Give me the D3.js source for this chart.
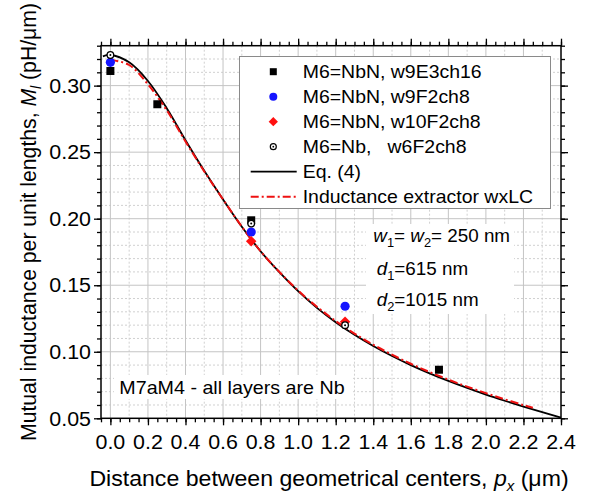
<!DOCTYPE html>
<html>
<head>
<meta charset="utf-8">
<script src="https://cdn.jsdelivr.net/npm/d3@7"></script>
<style>
  html, body { margin: 0; padding: 0; background: #fff; }
  svg { display: block; }
  text { font-family: "Liberation Sans", Arial, Helvetica, sans-serif; fill: #000; white-space: pre; }
</style>
</head>
<body>
<svg id="chart" width="593" height="499"></svg>
<script>
// Measured mutual inductance per unit length (pH/µm) vs. center distance (µm)
const w9E3ch16X = [0, 0.25, 0.75, 1.75];
const w9E3ch16Y = [0.311, 0.286, 0.1988, 0.0865];
const w9F2ch8X = [0, 0.75, 1.25];
const w9F2ch8Y = [0.3175, 0.190, 0.1342];
const w10F2ch8X = [0.75, 1.25];
const w10F2ch8Y = [0.183, 0.1225];
const w6F2ch8X = [0, 0.75, 1.25];
const w6F2ch8Y = [0.323, 0.1963, 0.120];

// Eq. (4) curve
const eqX = [-0.04, 0.0, 0.1, 0.2, 0.3, 0.4, 0.5, 0.6, 0.7, 0.8, 0.9, 1.0, 1.1, 1.2, 1.3,
             1.4, 1.5, 1.6, 1.7, 1.8, 1.9, 2.0, 2.1, 2.2, 2.3, 2.4];
const eqY = [0.322, 0.323, 0.3175, 0.3035, 0.283, 0.259, 0.236, 0.2145, 0.194, 0.1755, 0.1598,
             0.1455, 0.1330, 0.1222, 0.1127, 0.1043, 0.0968, 0.0900, 0.0838, 0.0781, 0.0728,
             0.0678, 0.0632, 0.0588, 0.0546, 0.0505];

// Inductance extractor wxLC results
const wxlcX = [0.0, 0.1, 0.2, 0.3, 0.4, 0.5, 0.6, 0.7, 0.8, 0.9, 1.0, 1.1, 1.2, 1.3, 1.4,
               1.5, 1.6, 1.7, 1.8, 1.9, 2.0, 2.1, 2.2, 2.25];
const wxlcY = [0.3195, 0.3155, 0.301, 0.2815, 0.258, 0.2355, 0.2145, 0.194, 0.1755, 0.1600,
               0.1460, 0.1338, 0.1231, 0.1137, 0.1053, 0.0978, 0.0910, 0.0848, 0.0791, 0.0738,
               0.0689, 0.0643, 0.0599, 0.0579];

const xTickValues = [0.0, 0.2, 0.4, 0.6, 0.8, 1.0, 1.2, 1.4, 1.6, 1.8, 2.0, 2.2, 2.4];
const yTickValues = [0.05, 0.10, 0.15, 0.20, 0.25, 0.30];

const legendLabels = ["M6=NbN, w9E3ch16", "M6=NbN, w9F2ch8", "M6=NbN, w10F2ch8",
                      "M6=Nb,   w6F2ch8", "Eq. (4)", "Inductance extractor wxLC"];

const SX = 1.07; // horizontal glyph stretch
const svg = d3.select("#chart");
const L = 101, R = 561, T = 45.7, B = 418.3;

const x = d3.scaleLinear().domain([-0.05, 2.4]).range([L, R]);
const y = d3.scaleLinear().domain([0.05, 0.33]).range([B, T]);

function stext(parent, px, py, anchor, size) {
  return parent.append("g")
    .attr("transform", `translate(${px},${py}) scale(${SX},1)`)
    .append("text")
    .attr("text-anchor", anchor || "start")
    .attr("font-size", size);
}

// grid
const grid = svg.append("g");
const xMinorGrid = d3.range(0.1, 2.4, 0.2);
const yMinorGrid = d3.range(0.06, 0.33, 0.01).filter(v => Math.abs(v * 100 % 5) > 0.01 && Math.abs(v * 100 % 5 - 5) > 0.01);
grid.selectAll(".xmg").data(xMinorGrid).enter().append("line")
  .attr("x1", d => x(d)).attr("x2", d => x(d)).attr("y1", T).attr("y2", B)
  .attr("stroke", "#d0d0d0").attr("stroke-width", 1).attr("stroke-dasharray", "2,2");
grid.selectAll(".ymg").data(yMinorGrid).enter().append("line")
  .attr("x1", L).attr("x2", R).attr("y1", d => y(d)).attr("y2", d => y(d))
  .attr("stroke", "#d0d0d0").attr("stroke-width", 1).attr("stroke-dasharray", "2,2");
grid.selectAll(".xg").data(xTickValues.slice(0, -1)).enter().append("line")
  .attr("x1", d => x(d)).attr("x2", d => x(d)).attr("y1", T).attr("y2", B)
  .attr("stroke", "#c4c4c4").attr("stroke-width", 1);
grid.selectAll(".yg").data(yTickValues.slice(1)).enter().append("line")
  .attr("x1", L).attr("x2", R).attr("y1", d => y(d)).attr("y2", d => y(d))
  .attr("stroke", "#c4c4c4").attr("stroke-width", 1);

// axes (ticks on all four sides, pointing outward)
const xMinor = d3.range(-0.05, 2.401, 0.05);
const yMinor = d3.range(0.05, 0.3301, 0.01);
function axisX(gen, ty) {
  svg.append("g").attr("transform", `translate(0,${ty})`)
    .call(gen.tickValues(xMinor).tickSize(4).tickFormat(""))
    .call(g => g.select(".domain").remove())
    .selectAll("line").attr("stroke-width", 1.3);
  svg.append("g").attr("transform", `translate(0,${ty})`)
    .call(gen.tickValues(xTickValues).tickSize(7).tickFormat(""))
    .call(g => g.select(".domain").remove())
    .selectAll("line").attr("stroke-width", 1.3);
}
function axisY(gen, tx) {
  svg.append("g").attr("transform", `translate(${tx},0)`)
    .call(gen.tickValues(yMinor).tickSize(4).tickFormat(""))
    .call(g => g.select(".domain").remove())
    .selectAll("line").attr("stroke-width", 1.3);
  svg.append("g").attr("transform", `translate(${tx},0)`)
    .call(gen.tickValues(yTickValues).tickSize(7).tickFormat(""))
    .call(g => g.select(".domain").remove())
    .selectAll("line").attr("stroke-width", 1.3);
}
axisX(d3.axisBottom(x), B);
axisX(d3.axisTop(x), T);
axisY(d3.axisLeft(y), L);
axisY(d3.axisRight(y), R);

// tick labels
xTickValues.forEach(v => stext(svg, x(v), 449, "middle", 20).text(d3.format(".1f")(v)));
yTickValues.forEach(v => stext(svg, 91, y(v) + 7.2, "end", 20).text(d3.format(".2f")(v)));

// curves
const lineGen = d3.line().x(d => x(d[0])).y(d => y(d[1])).curve(d3.curveCatmullRom);
svg.append("path").datum(eqX.map((v, i) => [v, eqY[i]]))
  .attr("d", lineGen).attr("fill", "none").attr("stroke", "#000").attr("stroke-width", 1.8);
svg.append("path").datum(wxlcX.map((v, i) => [v, wxlcY[i]]))
  .attr("d", lineGen).attr("fill", "none").attr("stroke", "#ee1111").attr("stroke-width", 2)
  .attr("stroke-dasharray", "8,3,2,3");

// annotation boxes
const ann = svg.append("g");
ann.append("rect").attr("x", 114).attr("y", 375).attr("width", 238).attr("height", 24).attr("fill", "#fff");
stext(ann, 119.3, 393.5, "start", 18.4).text("M7aM4 - all layers are Nb");

ann.append("rect").attr("x", 366).attr("y", 224).attr("width", 148).attr("height", 90).attr("fill", "#fff");
function subText(px, py, parts) {
  const t = stext(ann, px, py, "start", 17.6);
  parts.forEach(p => {
    const ts = t.append("tspan").text(p.t);
    if (p.i) ts.attr("font-style", "italic");
    if (p.sub) ts.attr("dy", 5).attr("font-size", 12);
    if (p.up) ts.attr("dy", -5);
  });
}
subText(373.3, 241.7, [{t: "w", i: 1}, {t: "1", sub: 1}, {t: "= ", up: 1}, {t: "w", i: 1}, {t: "2", sub: 1}, {t: "= 250 nm", up: 1}]);
subText(376.7, 275, [{t: "d", i: 1}, {t: "1", sub: 1}, {t: "=615 nm", up: 1}]);
subText(376.7, 306, [{t: "d", i: 1}, {t: "2", sub: 1}, {t: "=1015 nm", up: 1}]);

// markers
const pts = svg.append("g");
w9E3ch16X.forEach((v, i) => pts.append("rect")
  .attr("x", x(v) - 4).attr("y", y(w9E3ch16Y[i]) - 4).attr("width", 8).attr("height", 8).attr("fill", "#000"));
w9F2ch8X.forEach((v, i) => pts.append("circle")
  .attr("cx", x(v)).attr("cy", y(w9F2ch8Y[i])).attr("r", 4.6).attr("fill", "#1515ff"));
const diamond = d3.symbol().type(d3.symbolDiamond2).size(70);
w10F2ch8X.forEach((v, i) => pts.append("path").attr("d", diamond)
  .attr("transform", `translate(${x(v)},${y(w10F2ch8Y[i])})`).attr("fill", "#ff1010"));
w6F2ch8X.forEach((v, i) => {
  pts.append("circle").attr("cx", x(v)).attr("cy", y(w6F2ch8Y[i])).attr("r", 3.3)
    .attr("fill", "#fff").attr("stroke", "#000").attr("stroke-width", 1.3);
  pts.append("circle").attr("cx", x(v)).attr("cy", y(w6F2ch8Y[i])).attr("r", 1).attr("fill", "#000");
});

// frame
svg.append("rect").attr("x", L).attr("y", T).attr("width", R - L).attr("height", B - T)
  .attr("fill", "none").attr("stroke", "#000").attr("stroke-width", 1.5);

// legend
const lg = svg.append("g");
lg.append("rect").attr("x", 239.5).attr("y", 56.5).attr("width", 311).attr("height", 152)
  .attr("fill", "#fff").attr("stroke", "#8a8a8a").attr("stroke-width", 1);
const rowY = i => 71.7 + 25 * i;
const mx = 273.3;
lg.append("rect").attr("x", mx - 3.5).attr("y", rowY(0) - 3.5).attr("width", 7).attr("height", 7).attr("fill", "#000");
lg.append("circle").attr("cx", mx).attr("cy", rowY(1)).attr("r", 4).attr("fill", "#1515ff");
lg.append("path").attr("d", d3.symbol().type(d3.symbolDiamond2).size(55))
  .attr("transform", `translate(${mx},${rowY(2)})`).attr("fill", "#ff1010");
lg.append("circle").attr("cx", mx).attr("cy", rowY(3)).attr("r", 3).attr("fill", "#fff").attr("stroke", "#000").attr("stroke-width", 1.2);
lg.append("circle").attr("cx", mx).attr("cy", rowY(3)).attr("r", 0.9).attr("fill", "#000");
lg.append("line").attr("x1", 250.7).attr("x2", 296.7).attr("y1", rowY(4)).attr("y2", rowY(4))
  .attr("stroke", "#000").attr("stroke-width", 1.8);
lg.append("line").attr("x1", 250.7).attr("x2", 296.7).attr("y1", rowY(5)).attr("y2", rowY(5))
  .attr("stroke", "#ee1111").attr("stroke-width", 2).attr("stroke-dasharray", "8,3,2,3");
legendLabels.forEach((s, i) => stext(lg, 302.7, rowY(i) + 6.6, "start", 18.2).text(s));

// axis titles
const xt = stext(svg, 329, 486, "middle", 21.6);
xt.append("tspan").text("Distance between geometrical centers, ");
xt.append("tspan").text("p").attr("font-style", "italic");
xt.append("tspan").text("x").attr("font-style", "italic").attr("font-size", 14).attr("dy", 5);
xt.append("tspan").text(" (\u03bcm)").attr("dy", -5);

const yt = svg.append("g").attr("transform", `translate(36,222) rotate(-90) scale(1,${SX})`)
  .append("text").attr("text-anchor", "middle").attr("font-size", 21.2);
yt.append("tspan").text("Mutual inductance per unit lengths, ");
yt.append("tspan").text("M").attr("font-style", "italic");
yt.append("tspan").text("l").attr("font-style", "italic").attr("font-size", 14).attr("dy", 5);
yt.append("tspan").text(" (pH/\u03bcm)").attr("dy", -5);
</script>
</body>
</html>
